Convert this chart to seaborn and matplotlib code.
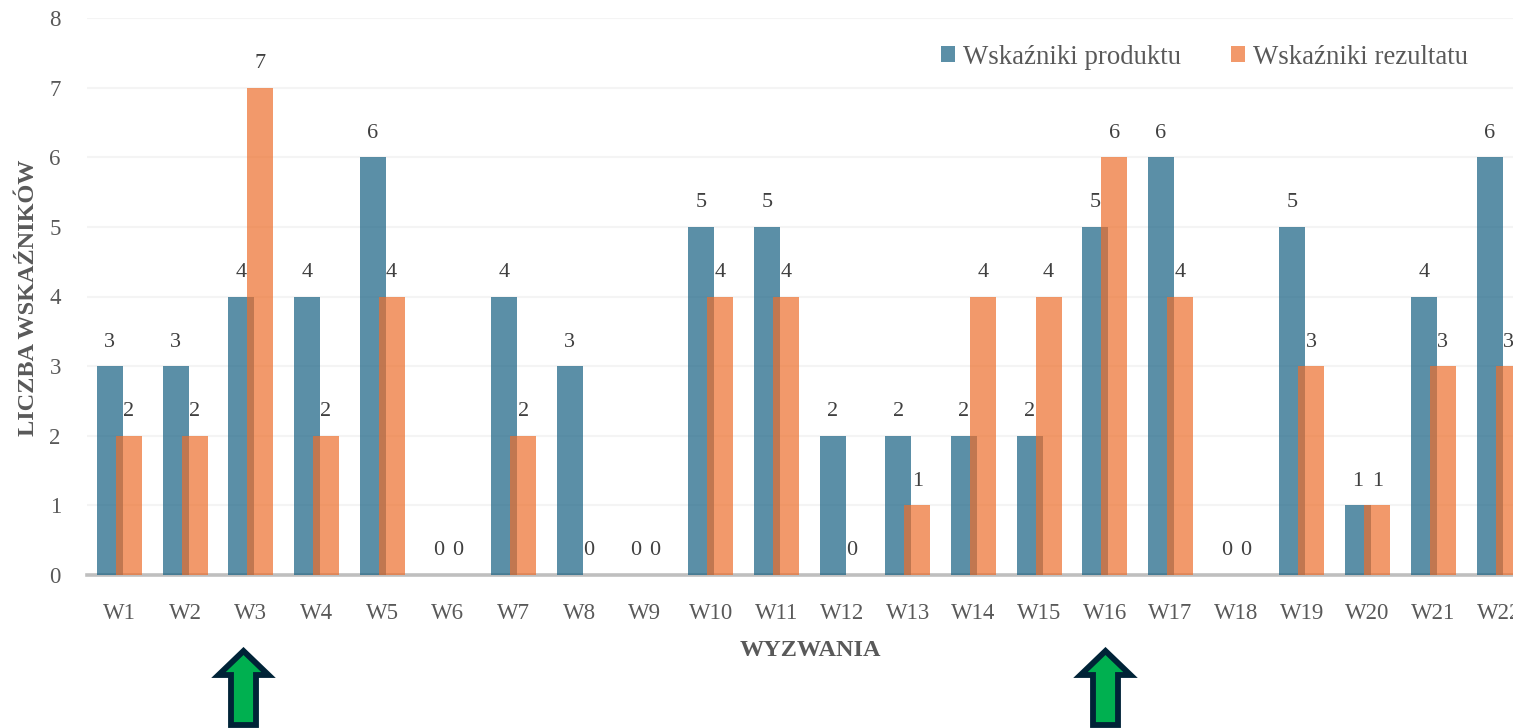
import pandas as pd
import matplotlib
matplotlib.use('Agg')
import matplotlib.pyplot as plt
import seaborn as sns
from matplotlib.patches import Polygon

categories = [f'W{i}' for i in range(1, 23)]
produktu = [3, 3, 4, 4, 6, 0, 4, 3, 0, 5, 5, 2, 2, 2, 2, 5, 6, 0, 5, 1, 4, 6]
rezultatu = [2, 2, 7, 2, 4, 0, 2, 0, 0, 4, 4, 0, 1, 4, 4, 6, 4, 0, 3, 1, 3, 3]
series_names = ['Wskaźniki produktu', 'Wskaźniki rezultatu']
y_ticks = [0, 1, 2, 3, 4, 5, 6, 7, 8]

W, H = 1513, 728
BAR_WIDTH = 0.396

sns.set_theme(style='white')
plt.rcParams['font.family'] = ['Liberation Serif', 'DejaVu Serif']

df = pd.DataFrame({
    'wyzwanie': categories * 2,
    'seria': [series_names[0]] * len(categories) + [series_names[1]] * len(categories),
    'liczba': produktu + rezultatu,
})

fig = plt.figure(figsize=(W / 100, H / 100), dpi=100)
# the plot area runs past the right edge, W22 is cut off in the original
ax = fig.add_axes([86.5 / W, (H - 575) / H, 22 * 65.7 / W, 557 / H])

sns.barplot(data=df, x='wyzwanie', y='liczba', hue='seria', hue_order=series_names,
            palette=['#166082', '#ED6E2C'], alpha=0.7, width=0.58, saturation=1,
            linewidth=0, legend=False, ax=ax, zorder=3)

# Excel style overlap: widen the bars around their own centres
for cont in ax.containers:
    for bar in cont:
        c = bar.get_x() + bar.get_width() / 2
        bar.set_width(BAR_WIDTH)
        bar.set_x(c - BAR_WIDTH / 2)
    ax.bar_label(cont, fmt='%g', padding=10.5, fontsize=16, color='#404040', zorder=5)

ax.set_xlim(-0.5, len(categories) - 0.5)
ax.set_ylim(0, 8)
ax.set_yticks(y_ticks)
ax.grid(axis='y', color='#F4F4F4', linewidth=1.5)
ax.set_axisbelow(True)
for side in ['top', 'left', 'right']:
    ax.spines[side].set_visible(False)
ax.spines['bottom'].set_color('#BFBFBF')
ax.spines['bottom'].set_linewidth(2.6)
ax.spines['bottom'].set_zorder(2)
ax.tick_params(axis='both', length=0, labelsize=16.5, labelcolor='#595959')
ax.tick_params(axis='x', pad=20)
ax.tick_params(axis='y', pad=18.5)

fig.text(810 / W, (H - 650) / H, 'WYZWANIA', ha='center', va='center',
         fontsize=17.5, fontweight='bold', color='#595959')
fig.text(29 / W, (H - 298) / H, 'LICZBA WSKAŹNIKÓW', ha='center', va='center', rotation=90,
         fontsize=17.5, fontweight='bold', color='#595959')
ax.set_xlabel('')
ax.set_ylabel('')

handles = [cont[0] for cont in ax.containers]
fig.legend(handles, series_names, loc='center right', bbox_to_anchor=(1468 / W, (H - 57) / H),
           ncol=2, frameon=False, fontsize=19.3, labelcolor='#595959', handlelength=0.52,
           handleheight=0.52, handletextpad=0.3, columnspacing=1.85, borderpad=0, borderaxespad=0)


def draw_arrow(cx):
    # up arrow in figure pixels, bottom runs off the image
    pts = [(cx, 651), (cx + 25, 675), (cx + 12.5, 675), (cx + 12.5, 725),
           (cx - 12.5, 725), (cx - 12.5, 675), (cx - 25, 675)]
    pts = [(x / W, (H - y) / H) for x, y in pts]
    fig.add_artist(Polygon(pts, closed=True, facecolor='#00B050', edgecolor='#002337',
                           linewidth=4.2, joinstyle='miter', transform=fig.transFigure))


draw_arrow(243.5)
draw_arrow(1105.5)

plt.savefig('out.png', dpi=100)
plt.close()
